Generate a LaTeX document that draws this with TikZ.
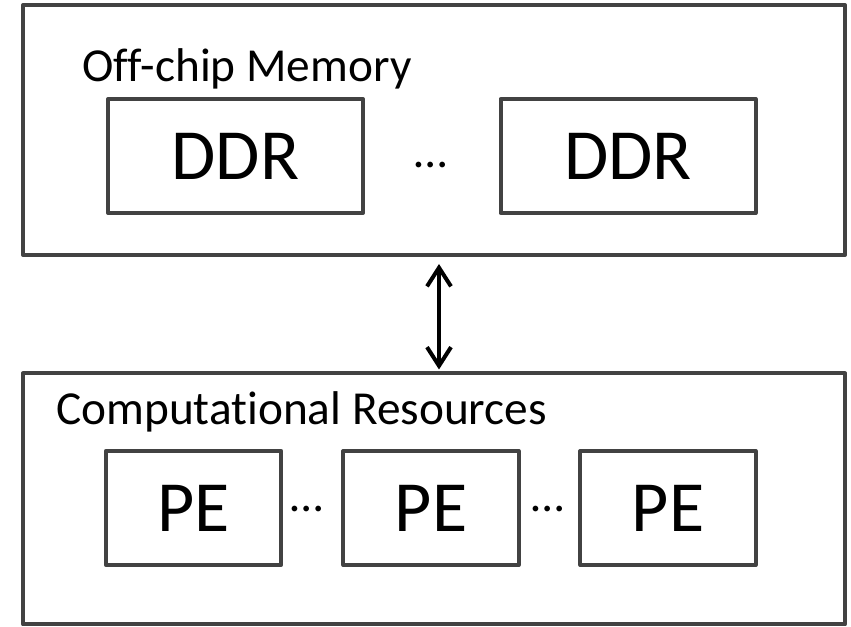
\documentclass[tikz,border=0pt]{standalone}
\usepackage{fontspec}
\setmainfont{Carlito}[Ligatures=NoCommon]
\usepackage{tikz}
\usetikzlibrary{arrows.meta}
\definecolor{boxgray}{RGB}{66,66,66}
\tikzset{
  outerbox/.style={draw=boxgray,line width=3pt,line join=round,inner sep=0pt,minimum width=616.5pt},
  unitbox/.style={draw=boxgray,line width=3pt,line join=round,inner sep=0pt,minimum height=85.5pt,font=\fontsize{54}{60}\selectfont},
  title/.style={anchor=base west,inner sep=0pt,font=\fontsize{35.5}{40}\selectfont},
  gap/.style={anchor=base,inner sep=0pt,font=\fontsize{35.5}{40}\selectfont},
  link/.style={line width=3pt,{Straight Barb[length=14pt,width=18pt]}-{Straight Barb[length=14pt,width=18pt]}}
}
\begin{document}
\begin{tikzpicture}[x=0.75pt,y=-0.75pt]
\useasboundingbox (0,0) rectangle (851,627);
\node[outerbox,minimum height=187.5pt] (mem) at (434,130) {};
\node[outerbox,minimum height=188.25pt] (comp) at (434,499) {};
\node[title] (memlabel) at (82,82) {Off-chip Memory};
\node[title] (complabel) at (56,425) {Computational Resources};
\node[unitbox,minimum width=191.25pt] (ddrA) at (235.5,156) {DDR};
\node[unitbox,minimum width=191.25pt] (ddrB) at (628,156) {DDR};
\node[gap] (ddrdots) at (431,168) {…};
\node[unitbox,minimum width=131.5pt] (peA) at (193.5,508) {PE};
\node[unitbox,minimum width=131.5pt] (peB) at (431,508) {PE};
\node[unitbox,minimum width=131.5pt] (peC) at (668,508) {PE};
\node[gap] (pedotsA) at (307,512) {…};
\node[gap] (pedotsB) at (548,512) {…};
\draw[link] ([xshift=3.75pt,yshift=-5.25pt]mem.south) -- ([xshift=3.75pt,yshift=1.5pt]comp.north);
\end{tikzpicture}
\end{document}
